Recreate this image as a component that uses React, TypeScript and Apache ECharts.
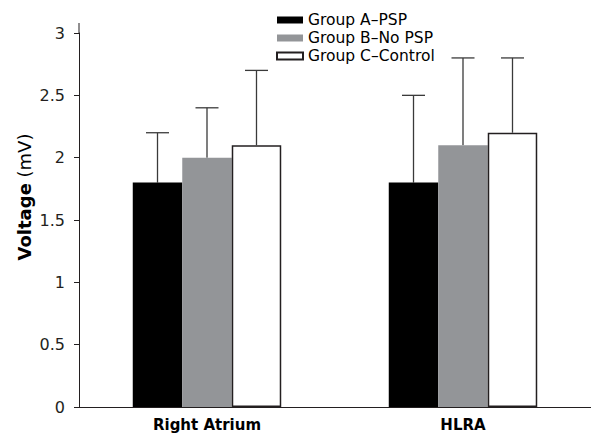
import React, { useEffect, useRef } from "react";
import * as echarts from "echarts";

const categories = ["Right Atrium", "HLRA"];
const seriesNames = ["Group A\u2013PSP", "Group B\u2013No PSP", "Group C\u2013Control"];
const groupA = [1.8, 1.8];
const groupB = [2.0, 2.1];
const groupC = [2.1, 2.2];
const sdA = [0.4, 0.7];
const sdB = [0.4, 0.7];
const sdC = [0.6, 0.6];
const yTicks = { min: 0, max: 3, interval: 0.5 };

const GRID_LEFT = 79;
const GRID_TOP = 33;
const GRID_BOTTOM = 27;
const CAT_GAP = 0.42;
const FONT = "'DejaVu Sans', sans-serif";
const INK = "#231f20";

export default function App() {
  const ref = useRef<HTMLDivElement>(null);
  useEffect(() => {
    if (!ref.current) return;
    const chart = echarts.init(ref.current, null, { renderer: "svg" });
    const values = [groupA, groupB, groupC];
    const sds = [sdA, sdB, sdC];
    const colors = ["#000000", "#939598", "#ffffff"];

    const barSeries = values.map((vals, i) => ({
      name: seriesNames[i],
      type: "bar",
      data: vals,
      barGap: "0%",
      barCategoryGap: CAT_GAP * 100 + "%",
      itemStyle: {
        color: colors[i],
        borderColor: i === 2 ? INK : colors[i],
        borderWidth: i === 2 ? 1.5 : 0,
      },
      z: 3,
    }));

    const errData: number[][] = [];
    values.forEach((vals, s) => {
      vals.forEach((v, c) => {
        errData.push([c, s, v, v + sds[s][c]]);
      });
    });

    const errSeries = {
      type: "custom",
      name: "err",
      data: errData,
      z: 2,
      silent: true,
      renderItem: (params: any, api: any) => {
        const c = api.value(0);
        const s = api.value(1);
        const lo = api.value(2);
        const hi = api.value(3);
        const catW = api.size([1, 0])[0];
        const barW = (catW * (1 - CAT_GAP)) / 3;
        const base = api.coord([c, lo]);
        const top = api.coord([c, hi]);
        const x = base[0] + (s - 1) * barW;
        const half = 11.5;
        const style = { stroke: "#3a3a3a", lineWidth: 1.3, fill: null };
        return {
          type: "group",
          children: [
            { type: "line", shape: { x1: x, y1: base[1], x2: x, y2: top[1] }, style },
            { type: "line", shape: { x1: x - half, y1: top[1], x2: x + half, y2: top[1] }, style },
          ],
        };
      },
    };

    chart.setOption({
      animation: false,
      backgroundColor: "#ffffff",
      grid: { left: GRID_LEFT, right: -6, top: GRID_TOP, bottom: GRID_BOTTOM, containLabel: false },
      legend: {
        data: seriesNames.map((n) => ({ name: n, icon: "rect" })),
        orient: "vertical",
        left: 276,
        top: 12,
        padding: 0,
        itemWidth: 26,
        itemHeight: 7,
        itemGap: 2,
        align: "left",
        textStyle: { fontFamily: FONT, fontSize: 15.5, color: "#000", lineHeight: 15 },
        selectedMode: false,
      },
      xAxis: {
        type: "category",
        data: categories,
        axisLine: { show: true, lineStyle: { color: INK, width: 1 } },
        axisTick: { show: false },
        axisLabel: { fontFamily: FONT, fontSize: 15, fontWeight: "bold", color: "#000", margin: 10 },
        splitLine: { show: false },
      },
      yAxis: {
        type: "value",
        min: yTicks.min,
        max: yTicks.max,
        interval: yTicks.interval,
        axisLine: { show: true, lineStyle: { color: INK, width: 1 } },
        axisTick: { show: true, length: 5, lineStyle: { color: INK, width: 1 } },
        axisLabel: { fontFamily: FONT, fontSize: 16, color: INK, margin: 14 },
        splitLine: { show: false },
      },
      graphic: [
        {
          type: "line",
          shape: { x1: GRID_LEFT, y1: GRID_TOP - 10, x2: GRID_LEFT, y2: GRID_TOP },
          style: { stroke: INK, lineWidth: 1 },
        },
        {
          type: "text",
          x: 24,
          y: 197,
          rotation: Math.PI / 2,
          style: {
            text: "{b|Voltage} (mV)",
            fontFamily: FONT,
            fontSize: 18,
            fill: "#000",
            align: "center",
            verticalAlign: "middle",
            rich: { b: { fontFamily: FONT, fontSize: 18, fontWeight: "bold", fill: "#000" } },
          },
        },
      ],
      series: [...barSeries, errSeries],
    });
    return () => chart.dispose();
  }, []);
  return (
    <div
      ref={ref}
      style={{ position: "fixed", left: 0, top: 0, width: 591, height: 434, background: "#fff" }}
    />
  );
}
